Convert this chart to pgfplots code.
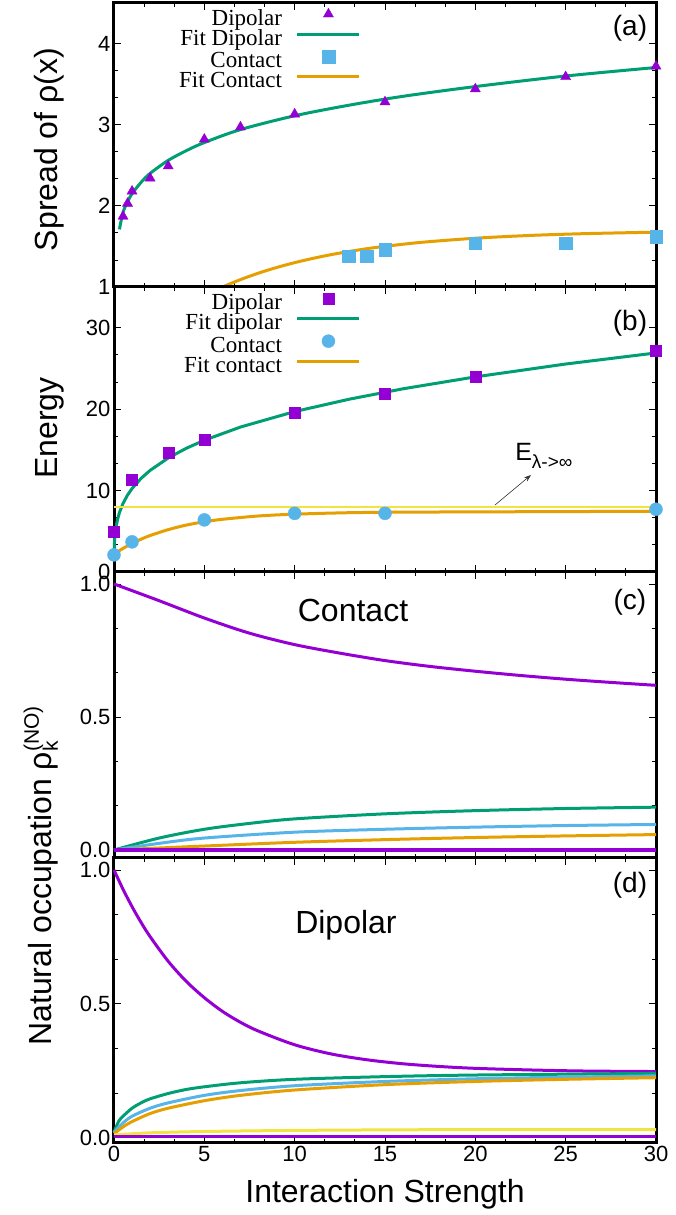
\documentclass[border=0pt]{standalone}
\usepackage{pgfplots}
\pgfplotsset{compat=1.18}
\usepackage{fontspec}
\setmainfont{Liberation Sans}
\newfontfamily\legfont{Liberation Serif}
\usetikzlibrary{arrows.meta}
\definecolor{gpPurple}{HTML}{9400D3}
\definecolor{gpGreen}{HTML}{009E73}
\definecolor{gpBlue}{HTML}{56B4E9}
\definecolor{gpOrange}{HTML}{E69F00}
\definecolor{gpYellow}{HTML}{F0E442}
\pgfplotsset{
 panel/.style={
  scale only axis, width=542pt, xmin=0, xmax=30, clip=false,
  axis line style={line width=3pt},
  tick align=inside, xtick pos=both, ytick pos=both,
  major tick length=7pt, minor tick length=4pt,
  tick style={black, line width=0.8pt},
  minor x tick num=2, minor y tick num=2,
  xtick={0,5,...,30},
  tick label style={font=\fontsize{22}{22}\selectfont},
  /pgf/number format/assume math mode=true,
  label style={font=\fontsize{32}{32}\selectfont},
  legend plot pos=right, legend cell align=right,
  legend image code/.code={\draw[mark repeat=2,mark phase=2,##1] plot coordinates {(0pt,6pt) (31pt,6pt) (62pt,6pt)};},
  legend style={draw=none, fill=none, anchor=north east, inner sep=0pt,
    font=\legfont\fontsize{23}{23}\selectfont,
    nodes={inner sep=0pt, text height=15pt, text depth=5pt},
    /tikz/column sep=14pt},
 },
 fit/.style={line width=3pt},
}
\begin{document}
\begin{tikzpicture}
\useasboundingbox (0pt,0pt) rectangle (676pt,1215pt);
% ---------------- (a)
\begin{axis}[panel, at={(114pt,928pt)}, anchor=south west, height=284pt,
  ymin=1, ymax=4.5, ytick={1,2,3,4}, xticklabels={},
  ylabel={Spread of ρ(x)},
  ylabel style={at={([xshift=-56pt]axis description cs:0,0.484)}, anchor=base},
  legend style={at={(0.456,0.982)}}]
\addplot[only marks, mark=triangle*, mark size=5.8pt, color=gpPurple] coordinates
 {(0.5,1.87)(0.75,2.03)(1,2.18)(2,2.34)(3,2.49)(5,2.82)(7,2.97)(10,3.13)(15,3.28)(20,3.44)(25,3.59)(30,3.72)};
\addlegendentry{Dipolar}
\addplot[fit, smooth, color=gpGreen] coordinates
 {(0.3,1.71)(0.5,1.92)(0.75,2.05)(1,2.15)(1.5,2.29)(2,2.40)(3,2.56)(4,2.68)(5,2.78)(7,2.94)(10,3.11)(13,3.24)(16,3.35)(20,3.47)(25,3.60)(30,3.705)};
\addlegendentry{Fit Dipolar}
\addplot[only marks, mark=square*, mark size=6.3pt, color=gpBlue] coordinates
 {(13,1.38)(14,1.38)(15,1.46)(20,1.54)(25,1.54)(30,1.62)};
\addlegendentry{Contact}
\addplot[fit, smooth, color=gpOrange] coordinates
 {(6,1.0)(7,1.091)(8,1.171)(9,1.24)(10,1.30)(11,1.352)(12,1.398)(13,1.437)(14,1.472)(15,1.501)(17,1.55)(20,1.601)(23,1.635)(26,1.657)(30,1.676)};
\addlegendentry{Fit Contact}
\node[font=\fontsize{28}{28}\selectfont] at (rel axis cs:0.952,0.912) {(a)};
\end{axis}
% ---------------- (b)
\begin{axis}[panel, at={(114pt,643pt)}, anchor=south west, height=285pt,
  ymin=0, ymax=35, ytick={0,10,20,30}, xticklabels={},
  ylabel={Energy},
  ylabel style={at={([xshift=-56pt]axis description cs:0,0.505)}, anchor=base},
  legend style={at={(0.456,0.979)}}]
\addplot[only marks, mark=square*, mark size=5.5pt, color=gpPurple] coordinates
 {(0,4.95)(1,11.3)(3,14.6)(5,16.3)(10,19.6)(15,21.9)(20,24.0)(30,27.2)};
\addlegendentry{Dipolar}
\addplot[fit, color=gpGreen] coordinates
 {(0.005,2.28)(0.02,3.38)(0.05,4.38)(0.1,5.34)(0.2,6.49)(0.3,7.29)(0.5,8.42)(0.75,9.45)(1,10.25)(1.5,11.5)(2,12.48)(3,14.0)(4,15.19)(5,16.18)(7,17.8)(10,19.7)(13,21.21)(16,22.5)(20,23.96)(25,25.54)(30,26.9)};
\addlegendentry{Fit dipolar}
\addplot[only marks, mark=*, mark size=6.5pt, color=gpBlue] coordinates
 {(0,2.1)(1,3.7)(5,6.4)(10,7.2)(15,7.2)(30,7.7)};
\addlegendentry{Contact}
\addplot[fit, smooth, color=gpOrange] coordinates
 {(0,2.2)(0.5,2.9)(1,3.5)(1.5,4.03)(2,4.48)(3,5.2)(4,5.76)(5,6.17)(6,6.47)(8,6.88)(10,7.1)(13,7.28)(16,7.35)(20,7.38)(25,7.42)(30,7.45)};
\addlegendentry{Fit contact}
\addplot[line width=1.8pt, color=gpYellow, forget plot] coordinates {(0,8.0)(30,8.0)};
\node[anchor=base west, inner sep=0pt, font=\fontsize{25}{25}\selectfont] at (axis cs:22.2,13.75)
 {E\raisebox{-8pt}{\fontsize{19}{19}\selectfont λ->∞}};
\draw[-{Stealth[length=7pt,width=5pt]}, line width=0.6pt, black!80] (axis cs:21.09,8.23) -- (axis cs:23.08,11.91);
\node[font=\fontsize{28}{28}\selectfont] at (rel axis cs:0.952,0.874) {(b)};
\end{axis}
% ---------------- (c)
\begin{axis}[panel, at={(114pt,357pt)}, anchor=south west, height=286pt,
  ymin=-0.03, ymax=1.045, ytick={0,0.5,1}, xticklabels={},
  yticklabel style={/pgf/number format/.cd, fixed, fixed zerofill, precision=1}]
\addplot[fit, smooth, color=gpPurple] coordinates
 {(0,1.0)(2.5,0.937)(5,0.872)(7.5,0.815)(10,0.772)(12.5,0.740)(15,0.712)(17.5,0.690)(20,0.672)(22.5,0.656)(25,0.642)(27.5,0.630)(30,0.619)};
\addplot[fit, smooth, color=gpGreen] coordinates
 {(0,0.0)(2.5,0.045)(5,0.078)(7.5,0.10)(10,0.117)(15,0.136)(20,0.148)(25,0.156)(30,0.161)};
\addplot[fit, smooth, color=gpBlue] coordinates
 {(0,0.0)(2.5,0.025)(5,0.045)(10,0.067)(15,0.078)(20,0.086)(25,0.092)(30,0.096)};
\addplot[fit, smooth, color=gpOrange] coordinates
 {(0,0.0)(5,0.015)(10,0.029)(15,0.039)(20,0.047)(25,0.053)(30,0.058)};
\addplot[line width=3.5pt, color=gpPurple] coordinates {(0,0.0)(30,0.0)};
\node[font=\fontsize{28}{28}\selectfont] at (rel axis cs:0.952,0.895) {(c)};
\node[font=\fontsize{32}{32}\selectfont] at (rel axis cs:0.441,0.864) {Contact};
\end{axis}
% ---------------- (d)
\begin{axis}[panel, at={(114pt,72pt)}, anchor=south west, height=285pt,
  ymin=-0.02, ymax=1.045, ytick={0,0.5,1},
  yticklabel style={/pgf/number format/.cd, fixed, fixed zerofill, precision=1},
  xlabel={Interaction Strength},
  xlabel style={at={([yshift=-59pt]axis description cs:0.5,0)}, anchor=base},
  ylabel={Natural occupation ρ\rlap{\raisebox{-6pt}{\fontsize{21}{21}\selectfont k}}\raisebox{13pt}{\fontsize{21}{21}\selectfont (NO)}},
  ylabel style={at={([xshift=-62pt]axis description cs:0,0.937)}, anchor=base}]
\addplot[fit, smooth, color=gpPurple] coordinates
 {(0,1.0)(0.5,0.928)(1,0.863)(1.5,0.804)(2,0.751)(3,0.659)(4,0.584)(5,0.523)(6,0.472)(7,0.431)(8,0.398)(10,0.347)(12,0.313)(14,0.291)(16,0.276)(18,0.266)(20,0.259)(23,0.253)(26,0.249)(30,0.247)};
\addplot[fit, smooth, color=gpGreen] coordinates
 {(0,0.02)(0.25,0.06)(0.5,0.08)(1,0.11)(1.5,0.13)(2,0.145)(3,0.165)(4,0.18)(5,0.19)(7,0.205)(10,0.218)(15,0.228)(20,0.234)(30,0.24)};
\addplot[fit, smooth, color=gpBlue] coordinates
 {(0,0.02)(0.5,0.055)(1,0.08)(2,0.11)(3,0.13)(5,0.158)(7,0.176)(10,0.194)(15,0.21)(20,0.22)(25,0.226)(30,0.231)};
\addplot[fit, smooth, color=gpOrange] coordinates
 {(0,0.015)(0.5,0.04)(1,0.06)(2,0.09)(3,0.11)(5,0.138)(7,0.158)(10,0.178)(15,0.198)(20,0.21)(25,0.218)(30,0.224)};
\addplot[fit, smooth, color=gpYellow] coordinates
 {(0,0.01)(2,0.018)(5,0.023)(10,0.027)(15,0.029)(20,0.03)(30,0.03)};
\addplot[line width=3.5pt, color=gpPurple] coordinates {(0,0.005)(30,0.005)};
\node[font=\fontsize{28}{28}\selectfont] at (rel axis cs:0.952,0.905) {(d)};
\node[font=\fontsize{32}{32}\selectfont] at (rel axis cs:0.428,0.765) {Dipolar};
\end{axis}
\end{tikzpicture}
\end{document}
